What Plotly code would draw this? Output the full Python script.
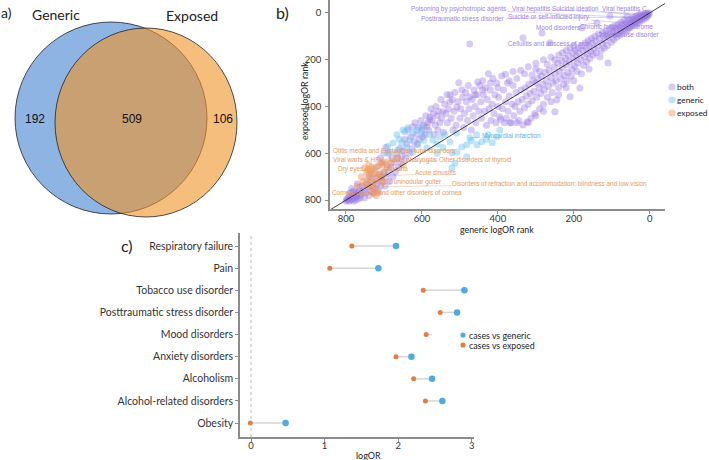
import plotly.graph_objects as go

W, H = 709, 460

# ---------------- panel a : Venn ----------------
venn_names = ["Generic", "Exposed"]
venn_counts = [192, 509, 106]          # generic only, both, exposed only

# ---------------- panel b : rank scatter (generic rank, exposed rank) ----------------
both_points = [
    (1,2),(3,8),(5,1),(6,14),(8,5),(9,20),(11,10),(12,3),(14,17),(15,26),(17,7),(18,12),(20,22),
    (21,32),(23,15),(24,5),(26,28),(27,40),(29,18),(30,9),(32,34),(33,46),(35,24),(36,14),(38,40),
    (40,52),(41,28),(43,20),(44,46),(46,35),(48,58),(49,25),
    (51,44),(53,64),(55,32),(56,52),(58,72),(60,14),(61,40),(63,60),(65,80),(66,48),(68,30),(70,68),
    (72,88),(74,55),(75,40),(77,78),(79,96),(81,62),(83,48),(85,86),(87,104),(89,70),(91,55),(93,95),
    (95,115),(97,78),(99,60),
    (101,125),(105,13),(104,88),(106,70),(108,104),(110,214),(112,140),(114,94),(116,76),(118,118),
    (120,150),(122,100),(124,84),(126,130),(128,160),(131,188),(133,110),(135,90),(137,140),(139,43),
    (141,170),(143,120),(145,100),(147,152),(149,180),
    (152,130),(154,110),(156,165),(158,195),(160,140),(162,118),(164,175),(166,210),(168,150),
    (170,128),(172,188),(174,225),(176,160),(179,65),(180,140),(182,200),(184,321),(186,172),
    (188,150),(190,215),(192,250),(194,185),(196,160),(198,228),(160,240),(180,260),(200,140),
    (201,198),(203,170),(205,240),(207,270),(210,358),(212,210),(214,182),(216,255),(218,290),
    (220,222),(222,195),(225,268),(227,305),(230,235),(232,205),(235,280),(238,250),(240,320),
    (242,215),(245,372),(247,290),(249,260),(200,290),(220,320),(240,350),(210,150),(220,160),
    (230,170),(240,180),
    (250,423),(252,230),(255,300),(257,340),(260,275),(263,128),(265,245),(267,315),(270,360),
    (272,290),(275,255),(278,330),(280,390),(282,305),(285,270),(287,345),(290,410),(292,320),
    (295,280),(298,360),(284,86),(250,200),(260,190),(270,220),(280,200),(290,250),(260,380),
    (280,420),
    (300,300),(303,430),(305,335),(308,290),(310,375),(313,450),(315,345),(318,305),(320,390),
    (323,465),(325,355),(328,320),(330,405),(334,107),(334,479),(336,370),(339,330),(342,420),
    (345,460),(347,380),(350,470),(300,215),(310,265),(320,230),(330,260),(340,245),(300,440),
    (320,470),(300,240),
    (352,340),(355,400),(358,440),(360,310),(363,390),(365,470),(368,470),(370,355),(373,420),
    (375,300),(378,450),(380,380),(383,470),(385,330),(388,410),(390,270),(393,455),(395,444),
    (398,360),(350,280),(360,250),(370,290),(380,262),
    (400,400),(403,300),(405,470),(408,350),(410,430),(413,280),(415,390),(418,460),(420,330),
    (423,410),(425,260),(428,370),(430,480),(433,320),(435,420),(438,350),(440,290),(443,450),
    (445,380),(448,310),(400,320),(420,300),(440,330),
    (450,420),(453,295),(455,350),(458,470),(460,400),(463,330),(465,440),(468,370),(470,500),
    (474,133),(474,359),(476,410),(478,310),(480,460),(483,380),(485,340),(488,430),(490,490),
    (493,360),(495,329),(498,410),(460,350),
    (500,450),(503,299),(505,380),(508,402),(510,480),(513,340),(515,420),(518,500),(520,370),
    (523,450),(526,350),(526,380),(530,410),(533,470),(534,350),(537,430),(540,390),(543,510),
    (545,423),(548,450),
    (550,370),(553,470),(556,420),(558,500),(560,440),(563,400),(565,480),(568,520),(570,430),
    (573,460),(576,410),(579,444),(579,457),(582,500),(585,470),(587,487),(590,440),(592,520),
    (595,480),(598,530),
    (600,500),(603,460),(606,540),(609,490),(612,560),(615,520),(618,470),(621,550),(624,487),
    (626,580),(630,530),(633,600),(637,500),(640,560),(643,620),(646,540),(649,590),
    (652,610),(655,640),(658,580),(661,660),(664,620),(667,600),(670,680),(673,640),(676,700),
    (679,620),(682,660),(685,720),(688,680),(691,650),(694,700),(697,740),(700,680),
    (690,600),(705,640),(710,620),(695,575),(720,660),(730,690),(740,700),
    (703,720),(706,700),(709,740),(712,690),(715,760),(718,730),(721,710),(724,750),(727,770),
    (730,740),(733,720),(736,760),(739,780),(742,745),(745,730),(748,770),(751,790),(754,760),
    (757,740),
    (760,775),(762,790),(764,760),(766,780),(768,795),(770,770),(772,785),(774,800),(776,775),
    (778,790),(780,805),(782,780),(784,795),(786,770),(788,800),(790,785),(792,805),(794,790),
    (796,800),(798,795),(775,765),(785,750),(765,745),(770,730),(780,760),(790,770),(800,805),
]
generic_points = [
    (650,500),(637,491),(613,500),(600,487),(666,521),(676,556),(653,556),(632,543),(611,564),
    (684,594),(663,585),(624,594),(587,577),(571,543),(553,530),(526,551),(508,513),(495,573),
    (474,534),(456,521),(442,551),(426,521),(403,530),(395,500),(521,598),(508,594),(482,615),
    (513,641),(521,662),(482,564),(455,564),(645,508),(624,513),(600,513),(660,540),(640,575),
    (595,545),(580,520),(560,560),(540,520),(470,545),(430,540),(415,555),(700,600),(690,570),
    (560,600),(545,575),
]
exposed_points = [
    (750,662),(742,670),(735,676),(728,668),(724,684),(738,690),(746,680),(732,660),(710,640),
    (704,650),(697,637),(729,744),(722,760),(716,769),(755,722),(748,735),(737,744),(703,722),
    (718,700),(712,690),(745,714),(725,725),(735,705),(700,680),(690,660),(760,700),(770,740),
    (715,655),(730,770),(720,780),(708,705),(740,650),(680,640),(665,620),(650,650),
]
b_groups = ["both", "generic", "exposed"]
b_ticks = [0, 200, 400, 600, 800]

# repelled labels: text, group, text position (generic, exposed), labelled point
lab_text = [
    "Poisoning by psychotropic agents", "Viral hepatitis", "Suicidal ideation", "Viral hepatitis C",
    "Posttraumatic stress disorder", "Suicide or self-inflicted injury", "Mood disorders",
    "Chronic fatigue syndrome", "Tobacco use disorder", "Cellulitis and abscess of arm",
    "Myocardial infarction",
    "Otitis media and Eustachian tube disorders", "Viral warts & HPV", "Acute pharyngitis",
    "Other disorders of thyroid", "Dry eyes", "Urticaria", "Acute sinusitis",
    "Nontoxic uninodular goiter",
    "Disorders of refraction and accommodation; blindness and low vision",
    "Corneal opacity and other disorders of cornea",
]
lab_group = ["both"] * 10 + ["generic"] + ["exposed"] * 10
lab_pos = [
    (505,-17),(313,-17),(195,-17),(66,-17),(492,26),(266,17),(242,64),(87,60),(55,94),(266,132),
    (363,526),
    (674,590),(768,628),(626,628),(458,628),(787,667),(668,667),(563,684),(647,722),(263,731),(666,769),
]
lab_point = [
    (20,22),(8,5),(6,14),(1,2),(14,17),(44,46),(139,43),(26,28),(35,24),(263,128),
    (474,534),
    (724,684),(750,662),(710,640),(697,637),(742,670),(704,650),(718,700),(737,744),(729,744),(722,760),
]

# ---------------- panel c : lollipop ----------------
conditions = ["Obesity", "Alcohol-related disorders", "Alcoholism", "Anxiety disorders",
              "Mood disorders", "Posttraumatic stress disorder", "Tobacco use disorder",
              "Pain", "Respiratory failure"]
logor_generic = [0.47, 2.60, 2.46, 2.18, 2.72, 2.80, 2.90, 1.73, 1.97]
logor_exposed = [-0.01, 2.37, 2.21, 1.97, 2.38, 2.57, 2.34, 1.07, 1.37]
c_series = ["cases vs generic", "cases vs exposed"]
c_ticks = [0, 1, 2, 3]

# ---------------- styling ----------------
FONT = "Lato"
C_BOTH, C_GEN, C_EXP = "rgba(150,115,225,0.38)", "rgba(100,190,235,0.42)", "rgba(240,150,90,0.48)"
LAB_COL = {"both": "#9C84DE", "generic": "#5DB3E0", "exposed": "#E49A66"}
ARR_COL = {"both": "rgba(156,132,222,0.6)", "generic": "rgba(93,179,224,0.6)", "exposed": "rgba(228,154,102,0.6)"}


def pxx(x):
    return x / W


def pxy(y):
    return 1 - y / H


fig = go.Figure()

# ---- panel a ----
venn_shapes = [
    dict(type="circle", xref="x", yref="y", x0=15, x1=207, y0=22, y1=214,
         fillcolor="#8DB4E3", line=dict(color="#222", width=0.8), layer="below"),
    dict(type="circle", xref="x", yref="y", x0=55, x1=237, y0=28, y1=217,
         fillcolor="rgba(240,147,38,0.6)", line=dict(color="#222", width=0.8), layer="below"),
]
venn_num_x = [35, 132, 223]
fig.add_trace(go.Scatter(x=venn_num_x, y=[120] * 3, mode="text",
                         text=[str(v) for v in venn_counts],
                         textfont=dict(family="Liberation Sans", size=12, color="#111"),
                         xaxis="x", yaxis="y", hoverinfo="skip"))

# ---- panel b ----
for pts, col, name in [(both_points, C_BOTH, "both"), (generic_points, C_GEN, "generic"),
                       (exposed_points, C_EXP, "exposed")]:
    fig.add_trace(go.Scatter(x=[p[0] for p in pts], y=[p[1] for p in pts], mode="markers",
                             marker=dict(size=7, color=col, line=dict(width=0)),
                             name=name, xaxis="x2", yaxis="y2", cliponaxis=False))
xr_b = [842, -40]
yr_b = [838, -55]
fig.add_trace(go.Scatter(x=[xr_b[0], xr_b[1]], y=[xr_b[0], xr_b[1]], mode="lines",
                         line=dict(color="#111", width=0.8), xaxis="x2", yaxis="y2",
                         hoverinfo="skip"))

annotations = []
for t, g, (tx, ty), (x, y) in zip(lab_text, lab_group, lab_pos, lab_point):
    annotations.append(dict(text=t, x=x, y=y, ax=tx, ay=ty, xref="x2", yref="y2",
                            axref="x2", ayref="y2", showarrow=True, arrowhead=0,
                            arrowwidth=0.6, arrowcolor=ARR_COL[g], standoff=1,
                            font=dict(family="Liberation Sans", size=6.4, color=LAB_COL[g])))

# ---- panel c ----
seg_x, seg_y = [], []
for c, a, b in zip(conditions, logor_exposed, logor_generic):
    seg_x += [a, b, None]
    seg_y += [c, c, None]
fig.add_trace(go.Scatter(x=seg_x, y=seg_y, mode="lines", line=dict(color="#D6D6D6", width=1.5),
                         xaxis="x3", yaxis="y3", hoverinfo="skip"))
fig.add_trace(go.Scatter(x=logor_generic, y=conditions, mode="markers", name=c_series[0],
                         marker=dict(size=6.5, color="#4FAAE0"), xaxis="x3", yaxis="y3"))
fig.add_trace(go.Scatter(x=logor_exposed, y=conditions, mode="markers", name=c_series[1],
                         marker=dict(size=5, color="#E07F45"), xaxis="x3", yaxis="y3"))

shapes = list(venn_shapes)
shapes.append(dict(type="line", xref="x3", yref="y3 domain", x0=0, x1=0, y0=0, y1=1,
                   line=dict(color="#BBBBBB", width=1, dash="dot"), layer="below"))

# legend box for panel c (white background covering plot, as in original)
shapes.append(dict(type="rect", xref="paper", yref="paper", x0=pxx(432), x1=pxx(540),
                   y0=pxy(352), y1=pxy(326), fillcolor="white", line=dict(width=0), layer="above"))


def key(cx, cy, r, col):
    return dict(type="circle", xref="paper", yref="paper", x0=pxx(cx - r), x1=pxx(cx + r),
                y0=pxy(cy + r), y1=pxy(cy - r), fillcolor=col, line=dict(width=0), layer="above")


# legend panel b
for i, (name, col) in enumerate(zip(b_groups, [C_BOTH, C_GEN, C_EXP])):
    cy = 87 + i * 13
    shapes.append(key(672, cy, 3.6, col))
    annotations.append(dict(text=name, x=pxx(676), y=pxy(cy), xref="paper", yref="paper",
                            xanchor="left", yanchor="middle", showarrow=False, borderpad=0,
                            font=dict(family=FONT, size=8.3, color="#222")))
# legend panel c
for i, (name, col) in enumerate(zip(c_series, ["#4FAAE0", "#E07F45"])):
    cy = 335 + i * 10
    shapes.append(key(463, cy, 2.6, col))
    annotations.append(dict(text=name, x=pxx(468), y=pxy(cy), xref="paper", yref="paper",
                            xanchor="left", yanchor="middle", showarrow=False, borderpad=0,
                            font=dict(family=FONT, size=8.8, color="#222")))

# titles / panel letters
texts = [
    ("a)", 0, 13, 14, "left", 0), ("b)", 282, 13, 16, "center", 0), ("c)", 127, 245, 16, "center", 0),
    (venn_names[0], 56, 14, 14, "center", 0), (venn_names[1], 192, 15, 14, "center", 0),
    ("generic logOR rank", 497, 229, 8.8, "center", 0),
    ("exposed logOR rank", 305, 101, 8.8, "center", -90),
    ("logOR", 368, 455, 9, "center", 0),
]
for t, x, y, s, xa, ang in texts:
    annotations.append(dict(text=t, x=pxx(x), y=pxy(y), xref="paper", yref="paper",
                            xanchor=xa, yanchor="middle", showarrow=False, textangle=ang,
                            borderpad=0, font=dict(family=FONT, size=s, color="#222")))

axis_common = dict(showgrid=False, zeroline=False, showline=True, linecolor="#8C8C8C",
                   linewidth=1.5, ticks="outside", ticklen=3, tickcolor="#8C8C8C")
tf_b = dict(family=FONT, size=9.5, color="#333")

fig.update_layout(
    width=W, height=H, margin=dict(l=0, r=0, t=0, b=0), showlegend=False,
    paper_bgcolor="white", plot_bgcolor="rgba(0,0,0,0)",
    xaxis=dict(domain=[0, 260 / W], range=[0, 260], visible=False),
    yaxis=dict(domain=[1 - 230 / H, 1], range=[230, 0], visible=False),
    xaxis2=dict(domain=[330 / W, 665 / W], range=xr_b, tickvals=b_ticks, anchor="y2",
                tickfont=tf_b, ticklabelstandoff=-3, **axis_common),
    yaxis2=dict(domain=[1 - 209 / H, 1], range=yr_b, tickvals=b_ticks, anchor="x2",
                tickfont=tf_b, ticklabelstandoff=2, **axis_common),
    xaxis3=dict(domain=[240 / W, 474 / W], range=[-0.15, 3.03], tickvals=c_ticks, anchor="y3",
                tickfont=dict(family=FONT, size=9.5, color="#333"), ticklabelstandoff=-4,
                **axis_common),
    yaxis3=dict(domain=[1 - 437 / H, 1 - 233 / H], range=[-0.63, 8.59], type="category",
                categoryorder="array", categoryarray=conditions, anchor="x3",
                tickfont=dict(family=FONT, size=10.5, color="#333"), **axis_common),
    shapes=shapes, annotations=annotations,
)

fig.write_html("out.html")
